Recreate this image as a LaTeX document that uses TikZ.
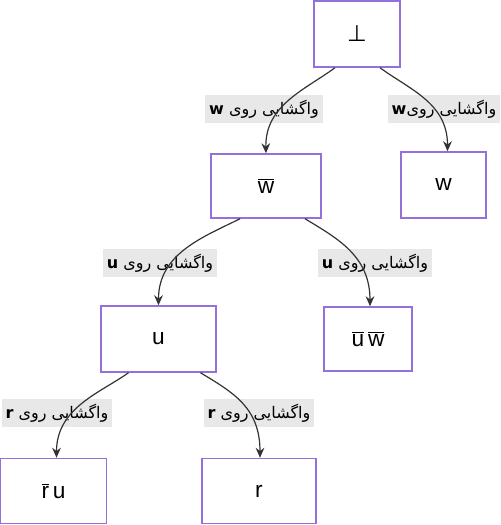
\documentclass[tikz,border=0pt]{standalone}
\usepackage{fontspec}
\setmainfont{Liberation Sans}
\newfontfamily\arabicfont[Script=Arabic]{DejaVu Sans}
\newfontfamily\symfont{DejaVu Sans}
\TeXXeTstate=1
\usetikzlibrary{calc,arrows.meta}
\definecolor{boxc}{HTML}{9370DB}
\definecolor{edgec}{HTML}{333333}
\definecolor{lblc}{HTML}{E8E8E8}
\newcommand\ovl[1]{$\overline{\mbox{#1}}$}
\tikzset{
  box/.style={draw=boxc, line width=1.1pt, fill=white, font=\fontsize{17}{20}\selectfont, inner sep=0pt},
  lbl/.style={fill=lblc, inner xsep=3pt, inner ysep=0pt, minimum height=21pt, font=\fontsize{12}{14}\selectfont},
  edge/.style={draw=edgec, line width=0.9pt, -{Stealth[length=7.5pt,width=6.5pt]}}
}
\begin{document}
\begin{tikzpicture}[x=0.75pt,y=-0.75pt]
\useasboundingbox (0,0) rectangle (500,525);
% nodes
\node[box, minimum width=64.5pt, minimum height=49.5pt] (bot) at (357,34) {\symfont ⊥};
\node[box, minimum width=82.5pt, minimum height=48pt] (wb) at (266,186) {\ovl{w}};
\node[box, minimum width=63.75pt, minimum height=49.5pt] (w) at (443.5,185) {w};
\node[box, minimum width=86.25pt, minimum height=49.5pt] (u) at (158.5,339) {u};
\node[box, minimum width=66pt, minimum height=48pt] (uw) at (368,339) {\ovl{u}\,\ovl{w}};
\node[box, minimum width=79.5pt, minimum height=48.75pt] (ru) at (53.5,491) {\ovl{r}\,u};
\node[box, minimum width=85.5pt, minimum height=48.75pt] (r) at (259,491) {r};
% labels
\node[lbl] (l1) at (264,109) {\arabicfont\beginR واگشایی روی  \textbf{w}\endR};
\node[lbl] (l2) at (444,109) {\arabicfont\beginR واگشایی روی\textbf{w}\endR};
\node[lbl] (l3) at (160,263) {\arabicfont\beginR واگشایی روی  \textbf{u}\endR};
\node[lbl] (l4) at (375,263) {\arabicfont\beginR واگشایی روی \textbf{u}\endR};
\node[lbl] (l5) at (57,413) {\arabicfont\beginR واگشایی روی \textbf{r}\endR};
\node[lbl] (l6) at (259,413) {\arabicfont\beginR واگشایی روی \textbf{r}\endR};
% edges
\draw[edge] ($(bot.south)+(-22,0)$) .. controls ($(bot.south)+(-52,22)$) and ($(wb.north)+(-1,-48)$) .. (wb.north);
\draw[edge] ($(bot.south)+(23,0)$) .. controls ($(bot.south)+(53,22)$) and ($(w.north)+(4,-48)$) .. ($(w.north)+(4,0)$);
\draw[edge] ($(wb.south)+(-26,0)$) .. controls ($(wb.south)+(-62,18)$) and ($(u.north)+(0,-52)$) .. (u.north);
\draw[edge] ($(wb.south)+(39,0)$) .. controls ($(wb.south)+(72,20)$) and ($(uw.north)+(2,-50)$) .. ($(uw.north)+(2,0)$);
\draw[edge] ($(u.south)+(-30,0)$) .. controls ($(u.south)+(-58,20)$) and ($(ru.north)+(3,-50)$) .. ($(ru.north)+(3,0)$);
\draw[edge] ($(u.south)+(42,0)$) .. controls ($(u.south)+(75,20)$) and ($(r.north)+(1,-50)$) .. ($(r.north)+(1,0)$);
\end{tikzpicture}
\end{document}
